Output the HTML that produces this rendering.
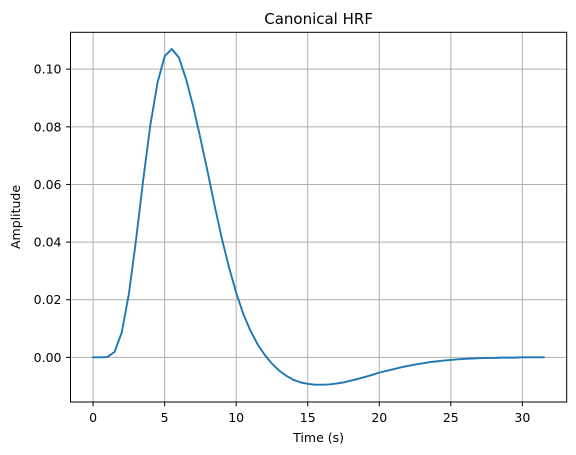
<!DOCTYPE html>
<html><head><meta charset="utf-8"><style>
html,body{margin:0;padding:0;background:#fff;}
svg{display:block;font-family:"DejaVu Sans","Liberation Sans",sans-serif;}
</style></head><body>
<svg id="chart" width="576" height="455" viewBox="0 0 576 455">
<rect x="0" y="0" width="576" height="455" fill="#fff"/>
<g id="grid"></g>
<g id="ticks"></g>
<path id="line" fill="none" stroke="#1f77b4" stroke-width="1.9" stroke-linejoin="round" stroke-linecap="square"/>
<rect x="70.5" y="32.3" width="496.2" height="369.7" fill="none" stroke="#000" stroke-width="1"/>
<text x="318.6" y="24" font-size="15" text-anchor="middle">Canonical HRF</text>
<text x="318.6" y="442" font-size="12.5" text-anchor="middle">Time (s)</text>
<text transform="translate(20,217) rotate(-90)" font-size="12.5" text-anchor="middle">Amplitude</text>
</svg>
<script>
const times = [0,0.5,1,1.5,2,2.5,3,3.5,4,4.5,5,5.5,6,6.5,7,7.5,8,8.5,9,9.5,10,10.5,11,11.5,12,12.5,13,13.5,14,14.5,15,15.5,16,16.5,17,17.5,18,18.5,19,19.5,20,20.5,21,21.5,22,22.5,23,23.5,24,24.5,25,25.5,26,26.5,27,27.5,28,28.5,29,29.5,30,30.5,31,31.5];
const amplitude = [0,0,0.0001,0.0019,0.0086,0.0220,0.0407,0.0615,0.0806,0.0953,0.1045,0.1070,0.1040,0.0965,0.0870,0.0760,0.0645,0.0525,0.0412,0.0312,0.0224,0.0150,0.0092,0.0045,0.0008,-0.0022,-0.0046,-0.0064,-0.0078,-0.0087,-0.0092,-0.0095,-0.0095,-0.0094,-0.0091,-0.0087,-0.0081,-0.0075,-0.0068,-0.0061,-0.0053,-0.0047,-0.0041,-0.0035,-0.0030,-0.0025,-0.0021,-0.0017,-0.0014,-0.0011,-0.0009,-0.0007,-0.0005,-0.0004,-0.0003,-0.0002,-0.0002,-0.0001,-0.0001,-0.0001,0,0,0,0];
const xTicks = [0,5,10,15,20,25,30];
const yTicks = [0,0.02,0.04,0.06,0.08,0.10];
const yTickLabels = ["0.00","0.02","0.04","0.06","0.08","0.10"];

const L=70.5,R=566.7,T=32.3,B=402;
const xMin=-1.58,xMax=33.1,yMin=-0.0155,yMax=0.1128;
function sx(v){return L+(v-xMin)/(xMax-xMin)*(R-L);}
function sy(v){return B-(v-yMin)/(yMax-yMin)*(B-T);}
const NS="http://www.w3.org/2000/svg";
const grid=document.getElementById('grid'), ticks=document.getElementById('ticks');
function mk(tag,attrs,parent){const e=document.createElementNS(NS,tag);for(const k in attrs)e.setAttribute(k,attrs[k]);parent.appendChild(e);return e;}
xTicks.forEach(v=>{
  const x=sx(v);
  const g=mk('line',{x1:x,x2:x,y1:T,y2:B,stroke:'#b0b0b0','stroke-width':1},grid);
  
  
  const t=mk('line',{x1:x,x2:x,y1:B,y2:B+4.4,stroke:'#000','stroke-width':1},ticks);
  
  
  const l=mk('text',{x:x,y:422,'font-size':12.5,'text-anchor':'middle'},ticks);
  l.textContent=String(v);
  
  
});
yTicks.forEach((v,i)=>{
  const y=sy(v);
  const g=mk('line',{x1:L,x2:R,y1:y,y2:y,stroke:'#b0b0b0','stroke-width':1},grid);
  
  
  const t=mk('line',{x1:L-4.4,x2:L,y1:y,y2:y,stroke:'#000','stroke-width':1},ticks);
  
  
  const l=mk('text',{x:L-9,y:y+4.5,'font-size':12.5,'text-anchor':'end'},ticks);
  l.textContent=yTickLabels[i];
  
  
});
document.getElementById('line').setAttribute('d',times.map((t,i)=>(i?'L':'M')+sx(t).toFixed(2)+','+sy(amplitude[i]).toFixed(2)).join(''));
</script>
</body></html>
